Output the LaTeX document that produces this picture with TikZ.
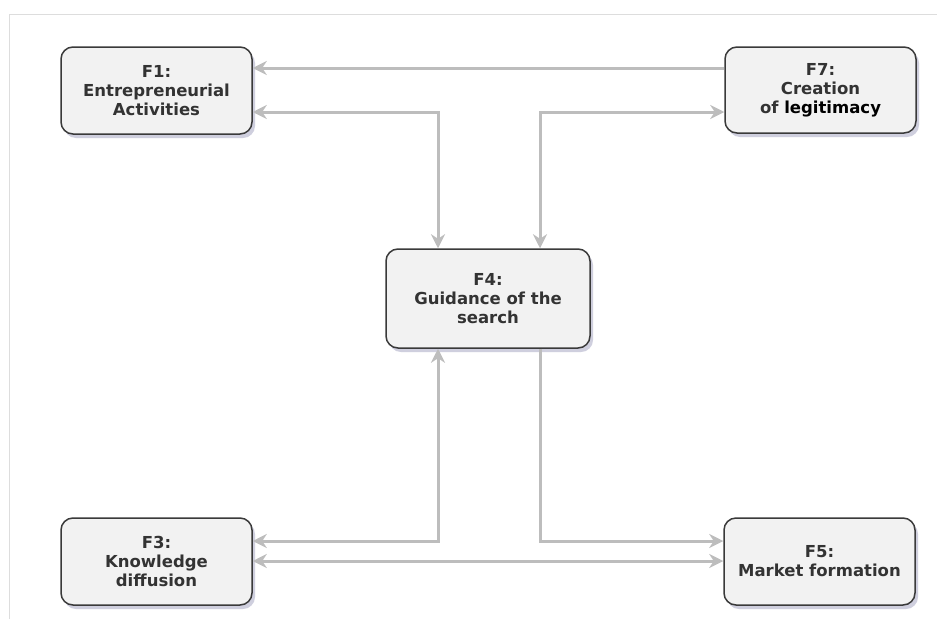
\documentclass[tikz,border=0pt]{standalone}
\usepackage{fontspec}
\setmainfont{DejaVu Sans}
\usetikzlibrary{arrows.meta,shadows}
\definecolor{boxfill}{HTML}{F2F2F2}
\definecolor{boxline}{HTML}{3A3A3A}
\definecolor{txt}{HTML}{333333}
\definecolor{arrcol}{HTML}{BDBDBD}
\definecolor{framecol}{HTML}{DDDDDD}
\definecolor{shadowcol}{HTML}{A8A8C4}
\tikzset{
  fbox/.style={draw=boxline, line width=1.5pt, fill=boxfill, rounded corners=12pt,
    align=center, text=txt, font=\fontsize{16.5}{19}\selectfont\bfseries,
    inner sep=0pt,
    drop shadow={shadow xshift=3pt, shadow yshift=-4pt, fill=shadowcol, opacity=0.55}},
  conn/.style={draw=arrcol, line width=3pt},
  tipA/.tip={Stealth[length=14pt,width=14pt,inset=4.5pt]},
}
\begin{document}
\begin{tikzpicture}[x=1pt,y=-1pt]
\useasboundingbox (0,0) rectangle (937,619);
\fill[white] (0,0) rectangle (937,619);
\draw[framecol, line width=1pt] (9,619) -- (9,14) -- (937,14);

\node[fbox, minimum width=191pt, minimum height=87pt] (F1) at (156.5,90.5) {F1:\\Entrepreneurial\\Activities};
\node[fbox, minimum width=191pt, minimum height=86pt] (F7) at (820.5,90) {F7:\\Creation\\of {\color{black}legitimacy}};
\node[fbox, minimum width=204pt, minimum height=99pt] (F4) at (488,298.5) {F4:\\Guidance of the\\search};
\node[fbox, minimum width=191pt, minimum height=87pt] (F3) at (156.5,561.5) {F3:\\Knowledge\\diffusion};
\node[fbox, minimum width=191pt, minimum height=87pt] (F5) at (819.5,561.5) {F5:\\Market formation};

\coordinate (ya) at (0,68);
\coordinate (c1) at (438,112);
\coordinate (c2) at (540,112);
\coordinate (c3) at (438,541);
\coordinate (c4) at (540,541);
\coordinate (yb) at (0,561);

\draw[conn, -{tipA}] (F7.west |- ya) -- (F1.east |- ya);
\draw[conn, {tipA}-{tipA}] (F1.east |- c1) -- (c1) -- (c1 |- F4.north);
\draw[conn, {tipA}-{tipA}] (F7.west |- c2) -- (c2) -- (c2 |- F4.north);
\draw[conn, {tipA}-{tipA}] (c3 |- F4.south) -- (c3) -- (F3.east |- c3);
\draw[conn, -{tipA}] (c4 |- F4.south) -- (c4) -- (F5.west |- c4);
\draw[conn, {tipA}-{tipA}] (F3.east |- yb) -- (F5.west |- yb);
\end{tikzpicture}
\end{document}
